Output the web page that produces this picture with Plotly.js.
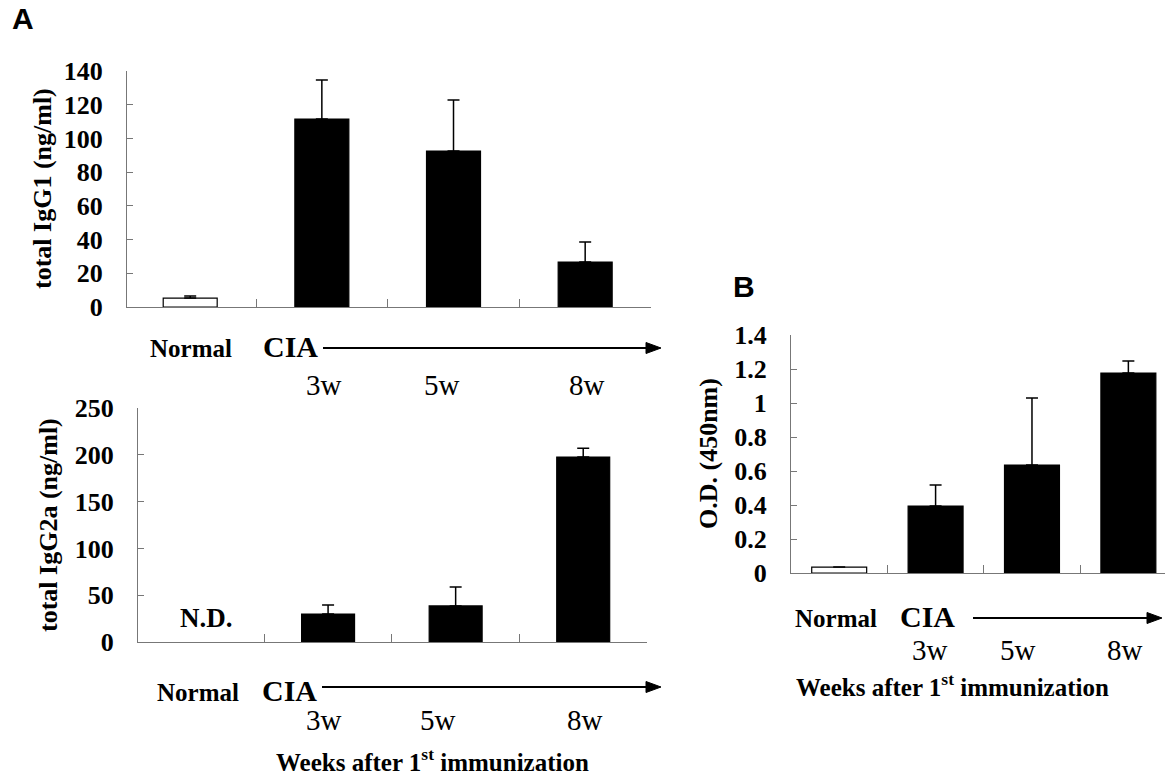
<!DOCTYPE html>
<html>
<head>
<meta charset="utf-8">
<script src="https://cdn.plot.ly/plotly-3.0.1.min.js"></script>
<style>html,body{margin:0;padding:0;background:#fff;}#chart{width:1167px;height:778px;}</style>
</head>
<body>
<div id="chart"></div>
<script>
// ---- data ----
const categories = ['Normal', 'CIA 3w', 'CIA 5w', 'CIA 8w'];
const weekLabels = ['3w', '5w', '8w'];
const igg1Mean = [5.3, 111.5, 92.5, 26.7];
const igg1Err  = [1.2, 23.2, 30.3, 11.9];
const igg2aMean = [null, 29.9, 38.5, 197.6];
const igg2aErr  = [0, 9.6, 20.3, 9.4];
const odMean = [0.035, 0.394, 0.635, 1.176];
const odErr  = [0, 0.124, 0.395, 0.071];
const barColors = ['white', 'black', 'black', 'black'];

const W = 1167, H = 778;
const px = x => x / W;
const py = y => 1 - y / H;
const SERIF = "'Liberation Serif', 'Times New Roman', serif";
const SANS = "'Liberation Sans', Arial, sans-serif";
const idx = categories.map((c, i) => i);

function barTrace(y, err, xa, ya, width) {
  return {
    type: 'bar', x: idx, y: y, xaxis: xa, yaxis: ya, width: width,
    hovertext: categories, hoverinfo: 'text+y',
    marker: {color: barColors, line: {color: 'black', width: 1.2}},
    error_y: {type: 'data', symmetric: false, array: err, arrayminus: err.map(() => 0),
              color: 'black', thickness: 1.5, width: 6},
    showlegend: false
  };
}

const data = [
  barTrace(igg1Mean, igg1Err, 'x', 'y', 0.41),
  barTrace(igg2aMean, igg2aErr, 'x2', 'y2', 0.415),
  barTrace(odMean, odErr, 'x3', 'y3', 0.57)
];

const tickFont = {family: SERIF, size: 26, color: 'black', weight: 'bold'};
function yAx(domain, range, dtick, anchor) {
  return {domain: domain, range: range, dtick: dtick, tick0: 0, anchor: anchor,
          showline: true, linecolor: '#777', linewidth: 1, ticks: 'inside', ticklen: 6,
          tickcolor: '#777', showgrid: false, zeroline: false, tickfont: tickFont,
          ticklabelstandoff: 18, fixedrange: true};
}
function xAx(domain, range, anchor) {
  return {domain: domain, range: range, anchor: anchor, showline: true, linecolor: '#777',
          linewidth: 1, ticks: 'inside', ticklen: 8, tickcolor: '#777',
          tickmode: 'array', tickvals: [0.5, 1.5, 2.5, 3.5], showticklabels: false,
          showgrid: false, zeroline: false, fixedrange: true};
}

const annotations = [];
const shapes = [];
function txt(x, y, text, size, bold, family, extra) {
  annotations.push(Object.assign({
    xref: 'paper', yref: 'paper', x: px(x), y: py(y), text: text, showarrow: false,
    xanchor: 'center', yanchor: 'middle',
    font: {family: family || SERIF, size: size, color: 'black', weight: bold ? 'bold' : 'normal'}
  }, extra || {}));
}
function arrow(x0, x1, y) {
  shapes.push({type: 'line', xref: 'paper', yref: 'paper', x0: px(x0), x1: px(x1 - 10),
               y0: py(y), y1: py(y), line: {color: 'black', width: 2}});
  shapes.push({type: 'path', xref: 'paper', yref: 'paper',
               path: `M ${px(x1)} ${py(y)} L ${px(x1 - 15)} ${py(y - 5.5)} L ${px(x1 - 15)} ${py(y + 5.5)} Z`,
               fillcolor: 'black', line: {color: 'black', width: 1}});
}

// panel letters
txt(23, 19, 'A', 30, true, SANS);
txt(744, 286, 'B', 30, true, SANS);

// y titles
txt(42, 189, 'total IgG1 (ng/ml)', 26, true, SERIF, {textangle: -90});
txt(48, 525, 'total IgG2a (ng/ml)', 26, true, SERIF, {textangle: -90});
txt(708, 454, 'O.D. (450nm)', 26, true, SERIF, {textangle: -90});

// panel A top category labels
txt(191, 348, 'Normal', 25, true);
txt(290, 346, 'CIA', 30, true);
arrow(323, 661, 348);
[324, 442, 587].forEach((x, i) => txt(x, 385, weekLabels[i], 29, false));

// panel A bottom
txt(198, 692, 'Normal', 25, true);
txt(289, 690, 'CIA', 30, true);
arrow(322, 661, 687);
[324, 438, 585].forEach((x, i) => txt(x, 720, weekLabels[i], 29, false));
txt(432, 760, 'Weeks after 1<sup>st</sup> immunization', 25, true);
annotations.push({xref: 'x2', yref: 'paper', x: 0.05, y: py(618), text: 'N.D.', showarrow: false,
  xanchor: 'center', yanchor: 'middle', font: {family: SERIF, size: 27, color: 'black', weight: 'bold'}});

// panel B
txt(836, 618, 'Normal', 25, true);
txt(927, 616, 'CIA', 30, true);
arrow(973, 1162, 618);
[930, 1018, 1125].forEach((x, i) => txt(x, 650, weekLabels[i], 29, false));
txt(952, 685, 'Weeks after 1<sup>st</sup> immunization', 25, true);

const layout = {
  width: W, height: H, margin: {l: 0, r: 0, t: 0, b: 0},
  paper_bgcolor: 'white', plot_bgcolor: 'white', showlegend: false, bargap: 0,
  xaxis: xAx([px(127), px(651)], [-0.48, 3.5], 'y'),
  yaxis: yAx([py(307), py(71)], [0, 140], 20, 'x'),
  xaxis2: xAx([px(138), px(647)], [-0.49, 3.5], 'y2'),
  yaxis2: yAx([py(642), py(408)], [0, 250], 50, 'x2'),
  xaxis3: xAx([px(791), px(1165)], [-0.5, 3.38], 'y3'),
  yaxis3: yAx([py(573), py(335)], [0, 1.4], 0.2, 'x3'),
  annotations: annotations,
  shapes: shapes
};

Plotly.newPlot('chart', data, layout, {displayModeBar: false, staticPlot: true});
</script>
</body>
</html>
